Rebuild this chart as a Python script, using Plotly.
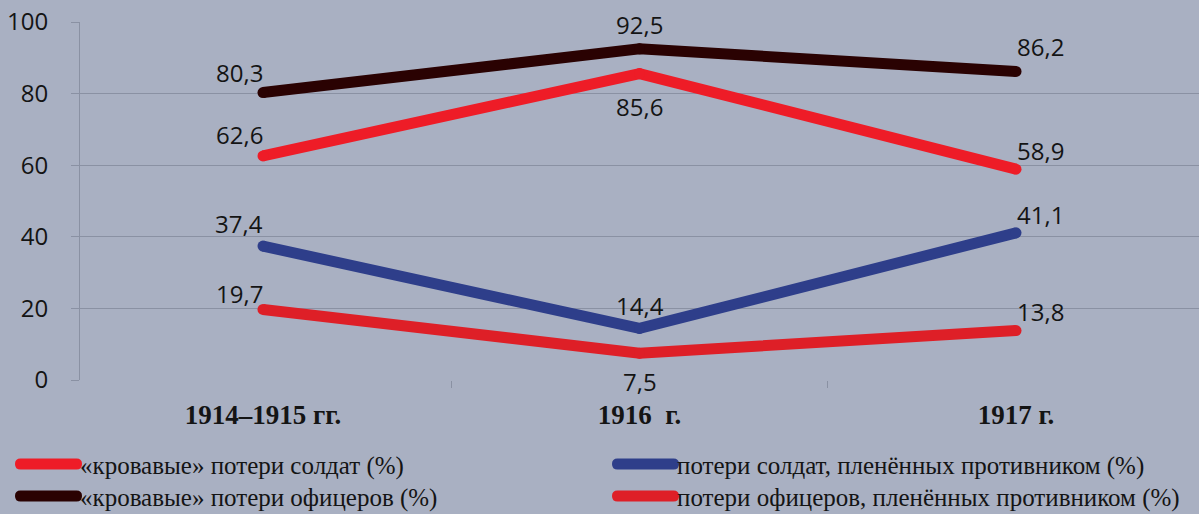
import plotly.graph_objects as go

categories = ["1914–1915 гг.", "1916\u00a0\u00a0г.", "1917 г."]
bloody_soldiers = [62.6, 85.6, 58.9]
captured_soldiers = [37.4, 14.4, 41.1]
bloody_officers = [80.3, 92.5, 86.2]
captured_officers = [19.7, 7.5, 13.8]
y_ticks = [0, 20, 40, 60, 80, 100]

names = [
    "«кровавые» потери солдат (%)",
    "потери солдат, пленённых противником (%)",
    "«кровавые» потери офицеров (%)",
    "потери офицеров, пленённых противником (%)",
]
series = [bloody_soldiers, captured_soldiers, bloody_officers, captured_officers]
colors = ["#ee1c27", "#2e3e8a", "#2a0202", "#de1f27"]

# label placement per series / category: (xanchor, xshift, yshift)
label_style = [
    [("right", 2, 21), ("center", 0, -33), ("left", -1, 19)],
    [("right", 2, 23), ("center", 0, 23), ("left", -1, 18)],
    [("right", 2, 20), ("center", 0, 24), ("left", -1, 25)],
    [("right", 2, 16), ("center", 0, -28), ("left", -1, 19)],
]
# manual legend layout: (symbol start x px, row y px) relative to plot origin
legend_slots = [(-65, -84), (532, -84), (-65, -116), (532, -116)]

def fmt(v):
    return f"{v:.1f}".replace(".", ",")

BG = "#a9b0c2"
GRID = "#8a91a3"
fig = go.Figure()
annotations = []
for name, vals, col, styles in zip(names, series, colors, label_style):
    fig.add_trace(go.Scatter(
        x=categories, y=vals, name=name,
        mode="lines+markers",
        line=dict(color=col, width=11),
        marker=dict(color=col, size=11),
        showlegend=False,
        hoverinfo="x+y+name",
    ))
    for cat, v, (xa, xs, ys) in zip(categories, vals, styles):
        annotations.append(dict(
            x=cat, y=v, xref="x", yref="y", text=fmt(v), showarrow=False,
            xanchor=xa, yanchor="middle", xshift=xs, yshift=ys,
            font=dict(family="Open Sans", size=24, color="#141414"),
        ))

def pill(x0, y, length=56, r=5.5):
    a, b = x0 + r, x0 + r + length
    return (f"M{a},{y+r} L{b},{y+r} Q{b+r},{y+r} {b+r},{y} Q{b+r},{y-r} {b},{y-r} "
            f"L{a},{y-r} Q{a-r},{y-r} {a-r},{y} Q{a-r},{y+r} {a},{y+r} Z")

shapes = []
for name, col, (sx, sy) in zip(names, colors, legend_slots):
    shapes.append(dict(
        type="path", xref="paper", yref="paper", xsizemode="pixel", ysizemode="pixel",
        xanchor=0, yanchor=0, path=pill(sx, sy), fillcolor=col, line=dict(width=0),
    ))
    annotations.append(dict(
        x=0, y=0, xref="paper", yref="paper", text=name, showarrow=False,
        xanchor="left", yanchor="middle", xshift=sx + 63, yshift=sy - 2,
        font=dict(family="Liberation Serif", size=25, color="#141414"),
    ))

fig.update_layout(
    width=1199, height=514,
    paper_bgcolor=BG, plot_bgcolor=BG,
    margin=dict(l=80, r=0, t=22, b=134),
    showlegend=False,
    annotations=annotations,
    shapes=shapes,
    font=dict(family="Open Sans", color="#141414"),
)
fig.update_xaxes(
    type="category", range=[-0.486, 2.486],
    showgrid=False, showline=False, zeroline=False,
    ticks="outside", tickson="boundaries", ticklen=7, tickcolor=GRID,
    ticklabelstandoff=16,
    tickfont=dict(family="Liberation Serif", size=27, color="#141414", weight="bold"),
)
fig.update_yaxes(
    range=[0, 100], tickvals=y_ticks,
    showgrid=True, gridcolor=GRID, gridwidth=1,
    showline=True, linecolor=GRID, linewidth=1,
    ticks="outside", ticklen=8, tickcolor=GRID,
    ticklabelstandoff=18,
    zeroline=False,
    tickfont=dict(family="Open Sans", size=24, color="#141414"),
)
fig.write_html(
    "out.html",
    config={"displayModeBar": False},
    post_script="document.body.style.margin='0';document.body.style.overflow='hidden';",
)
